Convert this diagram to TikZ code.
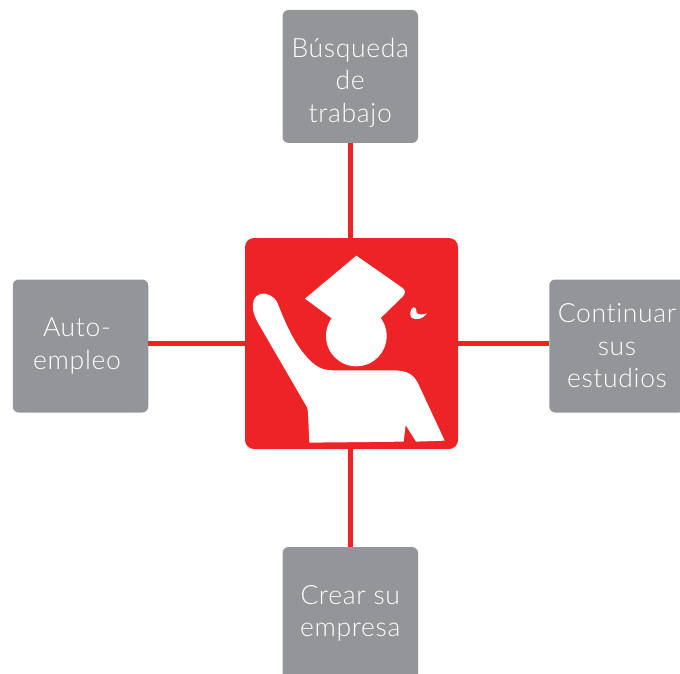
\documentclass[tikz,border=0pt]{standalone}
\usepackage{fontspec}
\setmainfont{Lato Light}[LetterSpace=2.5,Ligatures=NoCommon]
\definecolor{boxgray}{HTML}{939598}
\definecolor{hubred}{HTML}{EE2326}
\tikzset{
  optionbox/.style={draw=none,fill=boxgray,rounded corners=6pt,minimum width=135.5pt,minimum height=133pt,inner sep=0pt,align=center,text=white,font=\fontsize{26.5}{32.5}\selectfont},
  hubbox/.style={draw=none,fill=hubred,rounded corners=9pt,minimum width=213pt,minimum height=211pt,inner sep=0pt},
  linkline/.style={draw=hubred,line width=4.6pt},
  icon/.style={fill=white,draw=none}
}
\begin{document}
\begin{tikzpicture}[x=1pt,y=-1pt]
\useasboundingbox (0,0) rectangle (680,674);
\clip (0,0) rectangle (680,674);
\node[optionbox] (top) at (350.25,76.5) {\rule{0pt}{31pt}Búsqueda\\de\\trabajo};
\node[optionbox] (left) at (80.5,346) {Auto-\hspace*{7pt}\\empleo\hspace*{7pt}};
\node[optionbox] (right) at (617,346) {Continuar\\sus\\estudios};
\node[optionbox] (bottom) at (350.25,613.5) {Crear su\\empresa};
\node[hubbox] (hub) at (351.5,343.5) {};
\draw[linkline] (top.south) -- (top.south |- hub.north);
\draw[linkline] (bottom.north) -- (bottom.north |- hub.south);
\draw[linkline] (left.east |- hub.west) -- (hub.west);
\draw[linkline] (hub.east) -- (right.west |- hub.east);
\begin{scope}[shift={(240,230)},x=0.3333pt,y=-0.3333pt]
  % cap
  \fill[icon] (349,77) -- (488,174) .. controls (497,181) and (497,190) .. (488,200) -- (423,263) -- (349,300) -- (275,265) -- (195,206) -- cycle;
  % head
  \fill[icon] (349,318) circle[radius=91];
  % body and raised arm
  \fill[icon] (208,638) -- (204,548) .. controls (203,532) and (198,526) .. (193,518)
    -- (52,275) .. controls (40,252) and (35,230) .. (41,212)
    .. controls (48,190) and (72,185) .. (90,196)
    .. controls (102,203) and (110,210) .. (115,225)
    .. controls (140,290) and (165,340) .. (195,375)
    .. controls (225,410) and (245,421) .. (280,421)
    -- (465,421) .. controls (505,423) and (522,435) .. (535,462)
    -- (614,632) -- (528,635) -- (497,585) -- (491,635) -- cycle;
  % small mark
  \fill[icon] (520,232) .. controls (510,238) and (508,255) .. (515,263)
    .. controls (525,272) and (550,268) .. (561,250)
    .. controls (550,254) and (535,256) .. (530,248)
    .. controls (528,240) and (530,232) .. (520,232) -- cycle;
\end{scope}
\end{tikzpicture}
\end{document}
